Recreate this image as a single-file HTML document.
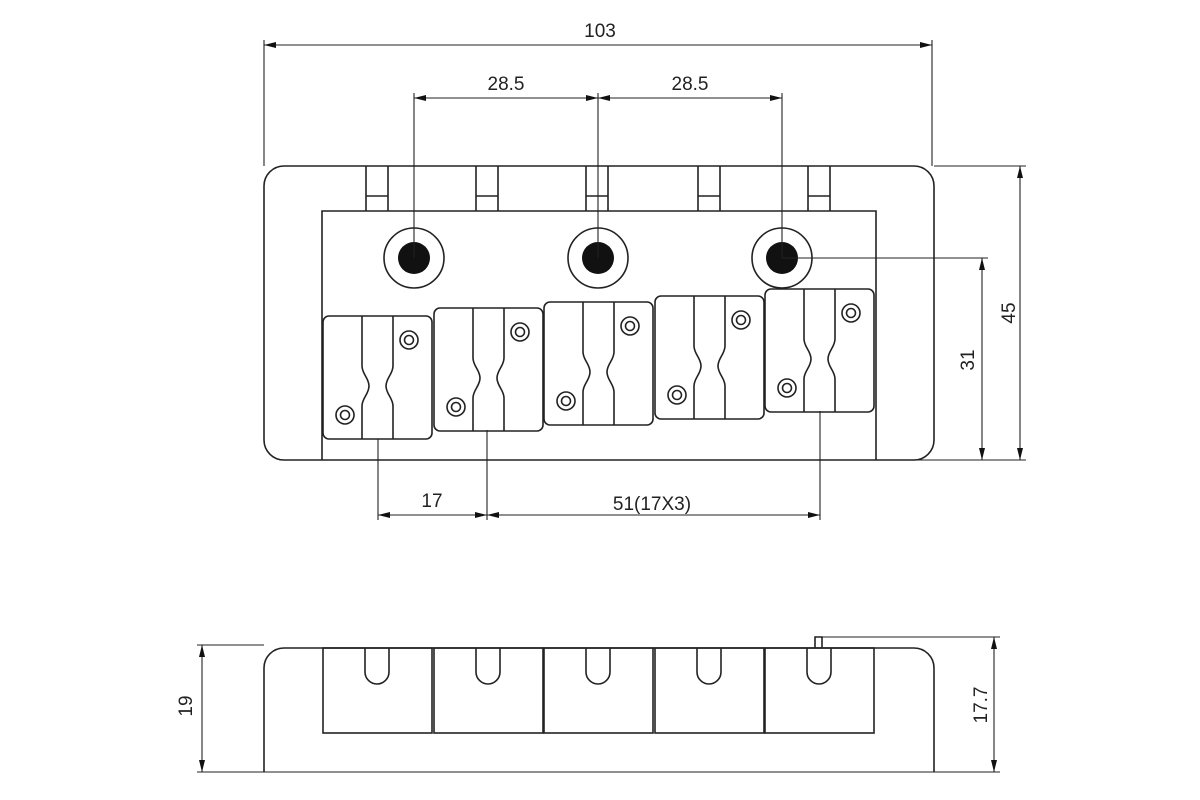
<!DOCTYPE html>
<html><head><meta charset="utf-8"><style>
html,body{margin:0;padding:0;background:#fff}
svg{display:block}
text{font-family:"Liberation Sans",sans-serif;font-size:19px;fill:#222}
</style></head><body>
<svg width="1200" height="800" viewBox="0 0 1200 800" xmlns="http://www.w3.org/2000/svg">
<defs>
<marker id="a" viewBox="0 0 12 6" refX="12" refY="3" markerWidth="12" markerHeight="6" orient="auto-start-reverse" markerUnits="userSpaceOnUse"><path d="M0 0 L12 3 L0 6 Z" fill="#111"/></marker>
<g id="sad" fill="none" stroke="#222" stroke-width="1.6">
<rect x="0" y="0" width="109" height="123" rx="6"/>
<path d="M39 0 V50 C39 58 46 62 46 70 C46 78 39 82 39 90 V123"/>
<path d="M70 0 V50 C70 58 63 62 63 70 C63 78 70 82 70 90 V123"/>
<circle cx="86" cy="24" r="9"/><circle cx="86" cy="24" r="4.5"/>
<circle cx="22" cy="99" r="9"/><circle cx="22" cy="99" r="4.5"/>
</g>
<g id="bs" fill="none" stroke="#222" stroke-width="1.6">
<rect x="0" y="0" width="109" height="85"/>
<path d="M42 0 V24 A12 12 0 0 0 66 24 V0"/>
</g>
</defs>
<g fill="none" stroke="#222" stroke-width="1.6">
<rect x="264" y="166" width="670" height="294" rx="20"/>
<path d="M322 460 V211 H876 V460"/>
<path d="M366 166V211M388 166V211M366 196H388 M476 166V211M498 166V211M476 196H498 M586 166V211M608 166V211M586 196H608 M698 166V211M720 166V211M698 196H720 M808 166V211M830 166V211M808 196H830"/>
<circle cx="414" cy="258" r="30"/><circle cx="598" cy="258" r="30"/><circle cx="782" cy="258" r="30"/>
</g>
<g fill="#111"><circle cx="414" cy="258" r="16"/><circle cx="598" cy="258" r="16"/><circle cx="782" cy="258" r="16"/></g>
<use href="#sad" transform="translate(323,316)"/>
<use href="#sad" transform="translate(434,308)"/>
<use href="#sad" transform="translate(544,302)"/>
<use href="#sad" transform="translate(655,296)"/>
<use href="#sad" transform="translate(765,289)"/>
<g stroke="#222" stroke-width="1.1" fill="none">
<path d="M264 40V166M932 40V166M414 93V258M598 93V258M782 93V258"/>
<path d="M264 45H932" marker-start="url(#a)" marker-end="url(#a)"/>
<path d="M414 98H598" marker-start="url(#a)" marker-end="url(#a)"/>
<path d="M598 98H782" marker-start="url(#a)" marker-end="url(#a)"/>
<path d="M934 166H1026M876 460H1026M782 258H988"/>
<path d="M1020 166V460" marker-start="url(#a)" marker-end="url(#a)"/>
<path d="M982 258V460" marker-start="url(#a)" marker-end="url(#a)"/>
<path d="M378 439V520M487 430V520M820 411V520"/>
<path d="M378 515H487" marker-start="url(#a)" marker-end="url(#a)"/>
<path d="M487 515H820" marker-start="url(#a)" marker-end="url(#a)"/>
</g>
<text x="600" y="37" text-anchor="middle">103</text>
<text x="506" y="90" text-anchor="middle">28.5</text>
<text x="690" y="90" text-anchor="middle">28.5</text>
<text x="432" y="507" text-anchor="middle">17</text>
<text x="652" y="510" text-anchor="middle">51(17X3)</text>
<text transform="translate(1015,313) rotate(-90)" text-anchor="middle">45</text>
<text transform="translate(974,360) rotate(-90)" text-anchor="middle">31</text>
<g fill="none" stroke="#222" stroke-width="1.6">
<path d="M264 772 V668 A20 20 0 0 1 284 648 H914 A20 20 0 0 1 934 668 V772"/>
<path d="M815 648 V637 H822 V648"/>
</g>
<use href="#bs" transform="translate(323,648)"/>
<use href="#bs" transform="translate(434,648)"/>
<use href="#bs" transform="translate(544,648)"/>
<use href="#bs" transform="translate(655,648)"/>
<use href="#bs" transform="translate(765,648)"/>
<g stroke="#222" stroke-width="1.1" fill="none">
<path d="M197 772H1000M197 645H264M822 637H1000"/>
<path d="M202 645V772" marker-start="url(#a)" marker-end="url(#a)"/>
<path d="M994 637V772" marker-start="url(#a)" marker-end="url(#a)"/>
</g>
<text transform="translate(192,706) rotate(-90)" text-anchor="middle">19</text>
<text transform="translate(987,705) rotate(-90)" text-anchor="middle">17.7</text>
</svg>
</body></html>
